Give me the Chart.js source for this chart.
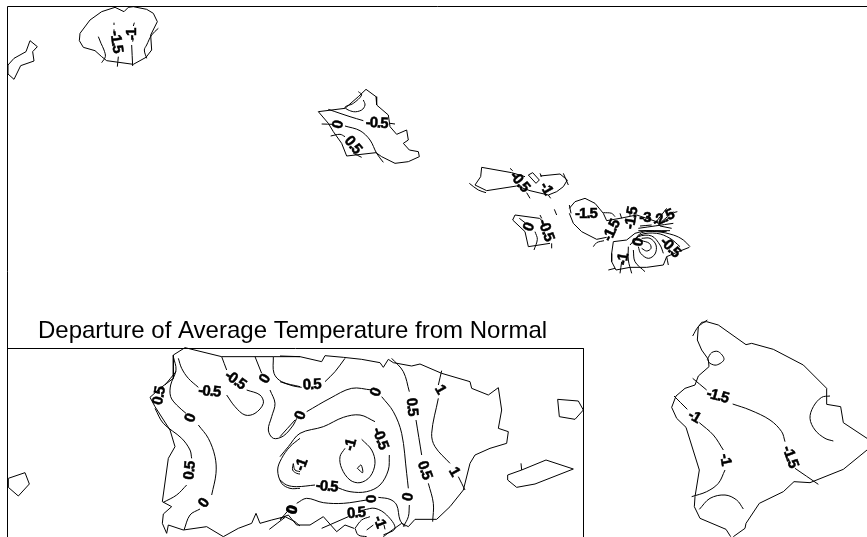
<!DOCTYPE html>
<html>
<head>
<meta charset="utf-8">
<title>Departure of Average Temperature from Normal</title>
<script src="https://cdn.jsdelivr.net/npm/chart.js@4"></script>
<style>
  body { margin: 0; background: #fff; }
  canvas { display: block; }
</style>
</head>
<body>
<canvas id="map" width="867" height="537"></canvas>
<script>
// map extent
const mapX = [0, 867];
const mapY = [0, 537];
const sheetFrame = [[[7.5, 537], [7.5, 6.5], [867, 6.5]]];
const insetFrame = [[[7.5, 348.5], [583.5, 348.5], [583.5, 537]]];
const titleText = "Departure of Average Temperature from Normal";

// each sheet is digitised in its own units (3 per map unit) from its own origin
const westOrigin = [0, 0];
const westCoast = [
  [[372,35],[345,22],[305,35],[270,60],[240,100],[238,122],[250,142],[285,152],[305,170],[320,182],[400,193],[438,172],[455,150],[452,105],[472,65],[460,40],[440,28],[400,20],[385,22],[372,35]],
  [[90,122],[112,140],[98,155],[102,183],[62,197],[42,238],[24,222],[24,195],[42,175],[78,155],[90,122]],
  [[1098,268],[1128,290],[1130,315],[1165,345],[1170,380],[1190,403],[1220,390],[1225,420],[1210,430],[1228,450],[1255,455],[1258,470],[1225,485],[1185,490],[1145,470],[1128,458],[1040,468],[1025,430],[1000,395],[985,370],[955,335],[1035,325],[1075,290],[1098,268]],
];
const westContours = [
  [[295,110],[303,130],[312,150],[316,170],[305,188]],
  [[475,85],[455,105],[440,135],[433,150],[440,175]],
  [[342,68],[342,75]], [[342,88],[342,98]], [[355,170],[352,200]],
  [[403,68],[400,78]], [[400,115],[398,125]], [[395,135],[398,198]],
  [[1075,275],[1085,285],[1060,310],[1035,322],[1060,335],[1085,330],[1095,315],[1090,300]],
  [[985,328],[1020,340],[1050,350],[1090,362]], [[1170,370],[1185,372]],
  [[965,372],[1000,373]], [[1035,378],[1080,392],[1110,420],[1130,460],[1150,487]],
  [[992,408],[1020,403],[1035,410]], [[1060,460],[1085,472]],
];
const westText = ["-1.5", "-1", "-0.5", "0", "0.5"];
const westAt = [[348,125],[395,103],[1130,370],[1015,375],[1058,435]];
const westTilt = [82,-90,3,-80,50];

const mauiOrigin = [460, 150];
const mauiCoast = [
  [[65,52],[155,68],[195,80]], [[205,75],[218,68],[238,90],[228,100],[205,75]],
  [[240,78],[300,72],[322,90],[310,110],[290,125],[265,135],[210,122],[170,108],[80,122],[45,105],[62,80],[65,52]],
  [[158,210],[165,195],[238,205],[245,210]], [[270,280],[205,290],[195,245],[158,210]],
  [[328,175],[345,155],[375,145],[405,160],[430,190],[440,212],[480,205],[530,195],[590,215],[600,228],[635,235]],
  [[328,190],[340,220],[365,245],[410,268],[440,262]],
];
const mauiContours = [
  [[150,55],[158,62]], [[240,70],[245,80]], [[310,70],[325,105]], [[28,100],[55,120],[78,128]],
  [[200,128],[210,145]], [[265,135],[272,145]],
  [[178,205],[195,218]], [[225,245],[232,268],[222,300]], [[240,195],[245,205]], [[275,280],[275,295]],
  [[283,178],[290,195]],
  [[328,165],[333,190]], [[430,188],[455,190],[465,200]], [[400,290],[410,278],[432,272]],
  [[480,190],[485,205]], [[510,185],[510,198]],
];
const mauiText = ["-0.5", "-1", "0", "-0.5", "-1.5", "-1.5", "-1.5", "-3", "-2.5", "0", "-0.5", "-1"];
const mauiAt = [[178,95],[258,115],[207,232],[257,240],[378,192],[455,242],[515,205],[555,203],[610,205],[535,278],[630,292],[490,328]];
const mauiTilt = [50,60,-70,70,0,-65,-80,0,-25,-75,45,-80];

const haleakalaOrigin = [570, 190];
const haleakalaCoast = [
  [[130,155],[170,150],[195,130],[225,122],[290,125]],
  [[130,155],[125,190],[125,215],[138,240],[180,232],[230,232],[280,225],[290,200],[325,185],[358,172]],
];
const haleakalaContours = [
  [[195,148],[215,128],[260,125],[310,135],[340,150],[360,170]],
  [[190,160],[210,135],[260,130],[300,145],[330,170]],
  [[180,165],[205,140],[245,138],[270,165],[280,190]],
  [[205,170],[212,190],[235,205],[255,192],[258,165],[240,145],[215,145]],
  [[215,152],[238,160],[243,175],[230,183],[215,175]],
  [[175,170],[175,210],[185,250]],
  [[190,180],[195,215],[225,245]],
  [[155,215],[150,250]],
  [[115,240],[135,235]],
  [[210,108],[245,105]],
  [[205,115],[310,100]],
  [[205,122],[300,122]],
  [[255,100],[290,55]],
  [[275,95],[310,65]],
  [[310,68],[322,65]],
  [[290,200],[295,225]],
];
const haleakalaText = [];
const haleakalaAt = [];
const haleakalaTilt = [];

const prWestOrigin = [0, 310];
const prWestCoast = [
  [[555,113],[665,140],[820,140],[900,140]],
  [[555,113],[520,135],[520,205],[480,235],[450,262],[465,290],[510,360],[525,410],[505,445],[487,575],[515,590],[490,612],[487,640],[500,670],[505,645],[550,660],[620,650],[670,680],[715,655],[755,640],[768,610],[780,640],[815,630],[855,620],[885,635],[900,648]],
  [[25,505],[75,488],[88,522],[55,558],[25,532],[25,505]],
];
const prWestContours = [
  [[520,140],[528,180],[512,225],[512,260],[530,285],[558,310]],
  [[595,345],[625,385],[645,440],[648,490],[635,555]],
  [[600,597],[570,615],[552,660]],
  [[528,185],[495,225]],
  [[465,295],[490,340],[545,385],[570,420],[575,445]],
  [[560,525],[530,555],[490,577]],
  [[535,145],[545,175],[565,205],[595,232]],
  [[680,255],[705,290],[735,315],[765,310],[790,280],[780,255],[740,240]],
  [[665,140],[680,180]],
  [[765,140],[785,190]],
  [[810,240],[825,280],[815,320],[805,360],[820,385],[850,378],[880,345],[890,325]],
  [[820,140],[822,190],[845,215],[900,230]],
  [[900,385],[870,410],[845,445],[833,480],[845,520],[870,535],[900,535]],
  [[880,460],[878,480],[890,490],[900,492]],
  [[808,658],[855,622]],
];
const prWestText = ["0.5", "0", "0", "0.5", "-0.5", "-0.5", "0", "0"];
const prWestAt = [[478,258],[572,325],[612,580],[570,482],[628,245],[705,210],[795,208],[878,600]];
const prWestTilt = [-80,-70,-55,-85,5,35,-60,-80];

const prEastOrigin = [280, 340];
const prEastCoast = [
  [[60,50],[125,65],[135,47],[190,52],[245,58],[300,68],[310,82],[325,58],[340,68],[395,78],[420,72],[485,100],[570,125],[575,145],[625,165],[655,143],[665,210],[655,265],[685,275],[680,310],[630,325],[585,345],[570,370],[550,450],[510,500],[470,538],[405,538],[385,560],[365,550],[330,575],[310,590]],
  [[60,50],[0,48]],
  [[0,535],[25,525],[50,555],[90,555],[130,530],[170,575],[195,555],[222,565]],
  [[683,405],[725,390],[798,360],[880,387],[765,432],[710,442],[683,420],[683,405]],
  [[833,178],[895,183],[910,210],[885,238],[838,230],[833,178]],
];
const prEastContours = [
  [[0,125],[40,138],[65,142]], [[135,125],[165,95],[195,55]],
  [[0,290],[45,240]],
  [[80,215],[150,175],[215,145],[275,150]],
  [[305,170],[340,215],[365,280],[380,400],[385,445]],
  [[388,495],[385,530],[370,560]],
  [[0,350],[25,320],[60,280],[130,260],[190,232],[240,225],[285,245]],
  [[328,345],[325,390],[300,435],[260,455],[210,455],[165,440]],
  [[105,435],[50,440],[20,435],[0,420]],
  [[245,298],[275,330],[285,370],[270,410],[240,428],[210,420],[185,385],[180,350],[195,325]],
  [[232,385],[243,375],[248,398],[232,385]],
  [[40,372],[45,390],[60,395]],
  [[0,540],[30,505]],
  [[50,490],[80,475],[130,488],[190,490],[260,480]],
  [[295,472],[330,478],[350,495],[360,540],[375,560]],
  [[125,565],[205,530]],
  [[250,510],[285,505],[320,525],[345,565],[310,585]],
  [[260,570],[280,555]],
  [[225,565],[235,585],[260,590]],
  [[225,565],[245,540],[270,530]],
  [[312,555],[315,568]],
  [[485,92],[475,135]],
  [[475,175],[455,280],[465,320],[510,370]],
  [[535,410],[555,450]],
  [[335,55],[370,95],[388,155]],
  [[408,240],[425,345]],
  [[445,430],[460,490],[458,545]],
  [[723,370],[725,390]],
];
const prEastText = ["0.5", "0", "0", "0", "-0.5", "-0.5", "-1", "-1", "0", "0", "0.5", "-1", "1", "1", "0.5", "0.5"];
const prEastAt = [[95,135],[62,228],[288,158],[385,472],[300,295],[140,440],[212,315],[65,375],[38,512],[275,478],[228,520],[298,545],[480,148],[522,395],[395,200],[433,390]];
const prEastTilt = [-3,-70,-70,-80,70,5,-75,-70,-70,-90,-5,70,60,60,85,70];

const bigOrigin = [600, 310];
const bigCoast = [
  [[400,680],[435,655],[438,640],[478,580],[550,545],[582,515],[630,518],[730,478],[801,420]],
  [[801,385],[730,338],[722,290],[680,283],[680,235],[610,165],[520,118],[455,100],[438,104],[355,45],[320,35],[305,37],[295,50],[292,90],[305,120],[325,148],[327,170],[295,198],[285,225],[255,235],[228,258],[215,292],[230,325],[258,352],[298,480],[285,560],[283,590],[300,625],[378,658],[392,680]],
];
const bigContours = [
  [[278,78],[295,50],[322,30]],
  [[322,148],[335,128],[355,125],[372,148],[350,165],[330,160],[322,148]],
  [[278,205],[320,240]],
  [[398,282],[450,300],[510,330],[545,365],[555,395]],
  [[585,475],[655,523]],
  [[222,258],[262,298]],
  [[298,338],[340,375],[370,420]],
  [[375,480],[355,520],[320,545],[275,560]],
  [[690,258],[665,262],[640,290],[630,325],[645,360],[675,385],[700,393]],
  [[298,598],[330,565],[375,555],[410,570],[430,597]],
];
const bigText = ["-1.5", "-1", "-1", "-1.5"];
const bigAt = [[352,258],[282,320],[375,448],[570,440]];
const bigTilt = [15,30,80,70];

const sheets = [
  { origin: westOrigin, coast: westCoast, contours: westContours, text: westText, at: westAt, tilt: westTilt },
  { origin: mauiOrigin, coast: mauiCoast, contours: mauiContours, text: mauiText, at: mauiAt, tilt: mauiTilt },
  { origin: haleakalaOrigin, coast: haleakalaCoast, contours: haleakalaContours, text: haleakalaText, at: haleakalaAt, tilt: haleakalaTilt },
  { origin: prWestOrigin, coast: prWestCoast, contours: prWestContours, text: prWestText, at: prWestAt, tilt: prWestTilt },
  { origin: prEastOrigin, coast: prEastCoast, contours: prEastContours, text: prEastText, at: prEastAt, tilt: prEastTilt },
  { origin: bigOrigin, coast: bigCoast, contours: bigContours, text: bigText, at: bigAt, tilt: bigTilt },
];

function toMap(origin, p) {
  return { x: origin[0] + p[0] / 3, y: origin[1] + p[1] / 3 };
}

function lineSet(points, tension) {
  return {
    data: points,
    showLine: true,
    pointRadius: 0,
    borderColor: "#000",
    borderWidth: 1,
    tension: tension,
    parsing: false,
  };
}

const datasets = [];
[sheetFrame, insetFrame].forEach((frame) => {
  frame.forEach((line) => {
    datasets.push(lineSet(line.map((p) => ({ x: p[0], y: p[1] })), 0));
  });
});
sheets.forEach((s) => {
  s.coast.forEach((line) => datasets.push(lineSet(line.map((p) => toMap(s.origin, p)), 0)));
  s.contours.forEach((line) => datasets.push(lineSet(line.map((p) => toMap(s.origin, p)), 0.35)));
});

// contour labels and the title are placed through the scales
const mapLabels = {
  id: "mapLabels",
  afterDatasetsDraw(chart) {
    const ctx = chart.ctx;
    const xs = chart.scales.x;
    const ys = chart.scales.y;
    ctx.save();
    ctx.fillStyle = "#000";
    ctx.strokeStyle = "#000";
    ctx.lineWidth = 0.5;
    ctx.textAlign = "center";
    ctx.textBaseline = "middle";
    ctx.font = "bold 15px 'Liberation Sans', Arial, sans-serif";
    ctx.letterSpacing = "-1px";
    sheets.forEach((s) => {
      s.text.forEach((t, i) => {
        const p = toMap(s.origin, s.at[i]);
        ctx.save();
        ctx.translate(xs.getPixelForValue(p.x), ys.getPixelForValue(p.y));
        ctx.rotate((s.tilt[i] * Math.PI) / 180);
        ctx.fillText(t, 0, 0);
        ctx.strokeText(t, 0, 0);
        ctx.restore();
      });
    });
    ctx.letterSpacing = "0px";
    ctx.font = "24px 'Liberation Sans', Arial, sans-serif";
    ctx.fillText(titleText, xs.getPixelForValue(292.5), ys.getPixelForValue(331));
    ctx.restore();
  },
};

new Chart(document.getElementById("map").getContext("2d"), {
  type: "scatter",
  data: { datasets: datasets },
  plugins: [mapLabels],
  options: {
    responsive: false,
    animation: false,
    layout: { padding: 0 },
    plugins: { legend: { display: false }, tooltip: { enabled: false } },
    scales: {
      x: { type: "linear", display: false, min: mapX[0], max: mapX[1] },
      y: { type: "linear", display: false, min: mapY[0], max: mapY[1], reverse: true },
    },
  },
});
</script>
</body>
</html>
